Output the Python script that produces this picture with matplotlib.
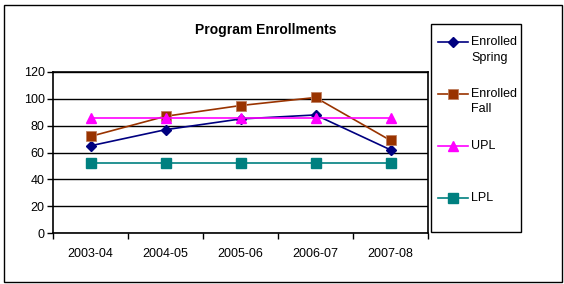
import matplotlib
matplotlib.use("Agg")
import matplotlib.pyplot as plt
from matplotlib.patches import Rectangle
from matplotlib.lines import Line2D

categories = ["2003-04", "2004-05", "2005-06", "2006-07", "2007-08"]
enrolled_spring = [65, 77, 85, 88, 62]
enrolled_fall = [72, 87, 95, 101, 69]
upl = [86, 86, 86, 86, 86]
lpl = [52, 52, 52, 52, 52]
series_labels = ["Enrolled\nSpring", "Enrolled\nFall", "UPL", "LPL"]
yticks = [0, 20, 40, 60, 80, 100, 120]

plt.rcParams['font.family'] = ['Liberation Sans', 'DejaVu Sans']

W, H = 564, 284
fig = plt.figure(figsize=(W / 100, H / 100), dpi=100)
fig.patch.set_facecolor("white")

def fx(px):
    return px / W

def fy(py):
    return 1 - py / H

# outer chart border
fig.patches.append(Rectangle((fx(4), fy(282)), 558 / W, 277 / H, transform=fig.transFigure,
                             fill=False, edgecolor="black", linewidth=1.0))
# legend box
fig.patches.append(Rectangle((fx(431), fy(232)), 90 / W, 208 / H, transform=fig.transFigure,
                             fill=False, edgecolor="black", linewidth=1.0))

ax = fig.add_axes([fx(53), fy(233), (428 - 53) / W, (233 - 72) / H])
x = list(range(len(categories)))

l1, = ax.plot(x, enrolled_spring, color="#000080", marker="D", markersize=5.5, linewidth=1.2)
l2, = ax.plot(x, enrolled_fall, color="#993300", marker="s", markersize=7, linewidth=1.2,
              markeredgecolor="#c08060", markeredgewidth=0.6)
l3, = ax.plot(x, upl, color="#FF00FF", marker="^", markersize=7.5, linewidth=1.2)
l4, = ax.plot(x, lpl, color="#008080", marker="s", markersize=7, linewidth=1.2)

ax.set_xlim(-0.5, len(categories) - 0.5)
ax.set_ylim(0, 120)
ax.set_yticks(yticks)
ax.set_yticklabels([str(v) for v in yticks], fontsize=9)
ax.set_xticks([i + 0.5 for i in range(-1, len(categories))])
ax.set_xticklabels([])
ax.set_xticks(x, minor=True)
ax.set_xticklabels(categories, minor=True, fontsize=9)
ax.tick_params(axis="x", which="minor", length=0, pad=11)
ax.tick_params(axis="x", which="major", length=4, width=1, direction="out")
ax.tick_params(axis="y", length=4, width=1, direction="out", pad=2)
ax.yaxis.grid(True, color="black", linewidth=1)
ax.set_axisbelow(True)
for s in ax.spines.values():
    s.set_color("black")
    s.set_linewidth(1.2)

fig.text(fx(266), fy(30), "Program Enrollments", ha="center", va="center",
         fontsize=10, fontweight="bold")

# legend drawn manually (handle aligned with first line of label, like Excel)
for i, (ln, lab) in enumerate(zip([l1, l2, l3, l4], series_labels)):
    yc = 42 + 52 * i
    fig.lines.append(Line2D([fx(438), fx(468)], [fy(yc), fy(yc)], transform=fig.transFigure,
                            color=ln.get_color(), linewidth=ln.get_linewidth()))
    fig.lines.append(Line2D([fx(453)], [fy(yc)], transform=fig.transFigure, linestyle="none",
                            marker=ln.get_marker(), markersize=ln.get_markersize(),
                            markerfacecolor=ln.get_markerfacecolor(),
                            markeredgecolor=ln.get_markeredgecolor(),
                            markeredgewidth=ln.get_markeredgewidth()))
    for j, part in enumerate(lab.split("\n")):
        fig.text(fx(471), fy(yc + 15.5 * j), part, ha="left", va="center", fontsize=9)

fig.savefig("out.png", dpi=100)
